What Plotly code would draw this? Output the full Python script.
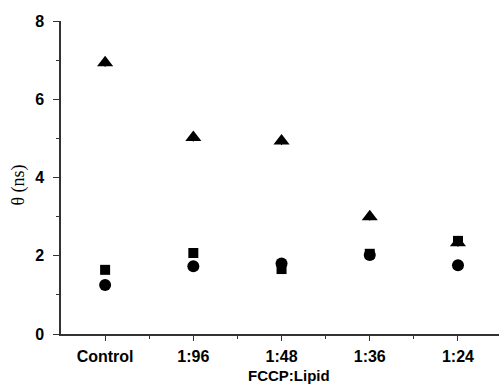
import plotly.graph_objects as go

categories = ["Control", "1:96", "1:48", "1:36", "1:24"]
triangle_vals = [6.93, 5.02, 4.93, 3.00, 2.33]
square_vals = [1.64, 2.07, 1.66, 2.05, 2.38]
circle_vals = [1.25, 1.73, 1.80, 2.02, 1.76]
y_ticks = [0, 2, 4, 6, 8]

xpos = list(range(len(categories)))

fig = go.Figure()
fig.add_trace(go.Scatter(x=xpos, y=triangle_vals, mode="markers",
                         marker=dict(symbol="triangle-up", size=14, color="black"),
                         error_y=dict(type="constant", value=0.1, color="black", thickness=1, width=0)))
fig.add_trace(go.Scatter(x=xpos, y=square_vals, mode="markers",
                         marker=dict(symbol="square", size=10, color="black")))
fig.add_trace(go.Scatter(x=xpos, y=circle_vals, mode="markers",
                         marker=dict(symbol="circle", size=12, color="black")))

tickfont = dict(family="Liberation Sans, Arial", size=16, color="black", weight="bold")

fig.update_layout(
    width=499, height=385,
    margin=dict(l=61, r=0, t=21, b=51),
    paper_bgcolor="white", plot_bgcolor="white",
    showlegend=False,
    xaxis=dict(range=[-0.5, 4.465], tickvals=xpos, ticktext=categories,
               showgrid=False, zeroline=False, showline=True, linecolor="#333",
               linewidth=1.5, ticks="outside", ticklen=5, tickcolor="#333",
               tickfont=tickfont, ticklabelstandoff=2,
               minor=dict(tickvals=[0.5, 1.5, 2.5, 3.5], ticks="outside", ticklen=3, tickcolor="#333", showgrid=False)),
    yaxis=dict(range=[0, 8], tickvals=y_ticks,
               showgrid=False, zeroline=False, showline=True, linecolor="#333",
               linewidth=1.5, ticks="outside", ticklen=6, tickcolor="#333",
               tickfont=tickfont, ticklabelstandoff=6,
               minor=dict(tickvals=[1, 3, 5, 7], ticks="outside", ticklen=3, tickcolor="#333", showgrid=False)),
    annotations=[
        dict(text="<b>FCCP:Lipid</b>", xref="paper", yref="paper", x=(289 - 61) / 438, y=0,
             yshift=-41, yanchor="middle", xanchor="center", showarrow=False,
             font=dict(family="Liberation Sans, Arial", size=15, color="black")),
        dict(text="θ (ns)", xref="paper", yref="paper", x=0, xshift=-43, y=0.5, yshift=-8,
             textangle=-90, xanchor="center", yanchor="middle", showarrow=False,
             font=dict(family="Liberation Serif, Times New Roman", size=18, color="black")),
    ],
)

fig.write_html("out.html")
